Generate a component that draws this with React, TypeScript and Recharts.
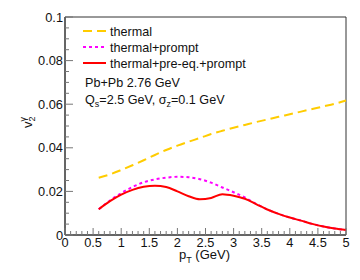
import { LineChart, Line, XAxis, YAxis, ReferenceArea } from 'recharts';

const pt = [0.6, 0.8, 1.0, 1.2, 1.4, 1.6, 1.8, 2.0, 2.2, 2.4, 2.6, 2.8, 3.0, 3.2, 3.4, 3.6, 3.8, 4.0, 4.2, 4.4, 4.6, 4.8, 5.0];
const thermal = [0.0263, 0.0278, 0.0298, 0.032, 0.0343, 0.0367, 0.039, 0.041, 0.0428, 0.0445, 0.0463, 0.0478, 0.0492, 0.0505, 0.0518, 0.053, 0.0542, 0.0554, 0.0566, 0.0578, 0.059, 0.0602, 0.0617];
const thermalPrompt = [0.0118, 0.0158, 0.0192, 0.022, 0.0242, 0.0255, 0.0263, 0.0267, 0.0265, 0.0256, 0.024, 0.0218, 0.0196, 0.0172, 0.0143, 0.0117, 0.0097, 0.008, 0.0066, 0.0051, 0.0039, 0.003, 0.0023];
const thermalPreEqPrompt = [0.0118, 0.0155, 0.0185, 0.0207, 0.0221, 0.0226, 0.022, 0.02, 0.0178, 0.0164, 0.017, 0.0187, 0.018, 0.0166, 0.0142, 0.0117, 0.0097, 0.008, 0.0066, 0.0051, 0.0039, 0.003, 0.0023];

const xMajor = [0, 0.5, 1, 1.5, 2, 2.5, 3, 3.5, 4, 4.5, 5];
const yMajor = [0, 0.02, 0.04, 0.06, 0.08, 0.1];

// minor ticks: 5 per major on x, 4 per major on y
const xTicks = Array.from({ length: 51 }, (_, i) => i / 10);
const yTicks = Array.from({ length: 21 }, (_, i) => (i * 5) / 1000);

const data = pt.map((p, i) => ({
  pt: p,
  thermal: thermal[i],
  prompt: thermalPrompt[i],
  preeq: thermalPreEqPrompt[i],
}));

const FONT = '"Liberation Sans", Arial, Helvetica, sans-serif';
const GOLD = '#FFCC00';
const MAGENTA = '#FF00FF';
const RED = '#FF0000';

const isMajor = (v: number, list: number[]) => list.some(m => Math.abs(m - v) < 1e-9);

function XTick(props: any) {
  const { x, y, payload } = props;
  const major = isMajor(payload.value, xMajor);
  return (
    <g>
      <line x1={x} y1={y} x2={x} y2={y - (major ? 7 : 4)} stroke="#777" strokeWidth={1} />
      {major && (
        <text x={x} y={y + 11.5} textAnchor="middle" fontSize={12.8} fontFamily={FONT} fill="#111">
          {String(payload.value)}
        </text>
      )}
    </g>
  );
}

function YTick(props: any) {
  const { x, y, payload } = props;
  const major = isMajor(payload.value, yMajor);
  return (
    <g>
      <line x1={x} y1={y} x2={x + (major ? 8 : 4)} y2={y} stroke="#777" strokeWidth={1} />
      {major && (
        <text x={x - 2} y={y + 4.5} textAnchor="end" fontSize={12.8} fontFamily={FONT} fill="#111">
          {String(payload.value)}
        </text>
      )}
    </g>
  );
}

export default function App() {
  return (
    <div style={{ position: 'absolute', left: 0, top: 0, width: 360, height: 280, background: '#fff' }}>
      <LineChart width={360} height={280} data={data} margin={{ top: 17, right: 14, bottom: 0, left: 0 }}>
        <XAxis
          dataKey="pt"
          type="number"
          domain={[0, 5]}
          ticks={xTicks}
          interval={0}
          height={45}
          tickSize={0}
          tickMargin={0}
          tickLine={false}
          axisLine={{ stroke: '#333' }}
          tick={<XTick />}
        />
        <YAxis
          type="number"
          domain={[0, 0.1]}
          ticks={yTicks}
          interval={0}
          width={65}
          tickSize={0}
          tickMargin={0}
          tickLine={false}
          axisLine={{ stroke: '#333' }}
          tick={<YTick />}
        />
        <ReferenceArea x1={0} x2={5} y1={0} y2={0.1} fill="none" stroke="#333" strokeWidth={1} ifOverflow="visible" />
        <Line type="monotone" dataKey="thermal" stroke={GOLD} strokeWidth={2} strokeDasharray="9 5" dot={false} isAnimationActive={false} />
        <Line type="monotone" dataKey="prompt" stroke={MAGENTA} strokeWidth={2} strokeDasharray="3 3" dot={false} isAnimationActive={false} />
        <Line type="monotone" dataKey="preeq" stroke={RED} strokeWidth={2} dot={false} isAnimationActive={false} />
      </LineChart>

      {/* legend, annotations and axis titles */}
      <svg width={360} height={280} style={{ position: 'absolute', left: 0, top: 0, pointerEvents: 'none' }} fontFamily={FONT} fill="#111">
        <line x1={83} y1={31} x2={106} y2={31} stroke={GOLD} strokeWidth={2} strokeDasharray="9 5" />
        <text x={110} y={35.5} fontSize={12.6}>thermal</text>
        <line x1={83} y1={47} x2={106} y2={47} stroke={MAGENTA} strokeWidth={2} strokeDasharray="3 3" />
        <text x={110} y={51.5} fontSize={12.6}>thermal+prompt</text>
        <line x1={83} y1={63} x2={106} y2={63} stroke={RED} strokeWidth={2} />
        <text x={110} y={67.5} fontSize={12.6}>thermal+pre-eq.+prompt</text>

        <text x={85} y={87} fontSize={12.6}>Pb+Pb 2.76 GeV</text>
        <text x={85} y={103.5} fontSize={12.6}>
          Q<tspan dy={3} fontSize={9}>s</tspan>
          <tspan dy={-3}>=2.5 GeV, σ</tspan>
          <tspan dy={3} fontSize={9}>z</tspan>
          <tspan dy={-3}>=0.1 GeV</tspan>
        </text>

        <text x={204.5} y={258.5} fontSize={13} textAnchor="middle">
          p<tspan dy={4} fontSize={9}>T</tspan>
          <tspan dy={-4}> (GeV)</tspan>
        </text>

        <text transform="translate(32,128) rotate(-90)" fontSize={13}>
          v<tspan dy={3} fontSize={9}>2</tspan>
          <tspan dx={-5} dy={-9} fontSize={9}>γ</tspan>
        </text>
      </svg>
    </div>
  );
}
